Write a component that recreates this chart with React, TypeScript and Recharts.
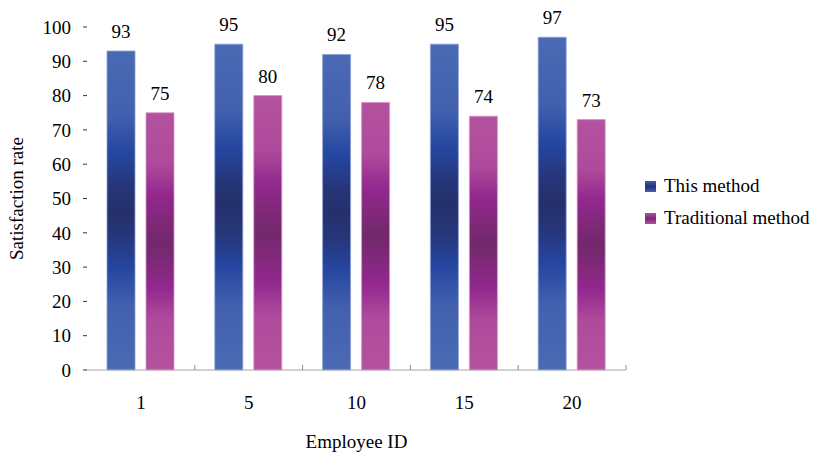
import { Bar, BarChart, LabelList, Legend, XAxis, YAxis } from "recharts";

const employees = ["1", "5", "10", "15", "20"];
const thisMethod = [93, 95, 92, 95, 97];
const traditional = [75, 80, 78, 74, 73];
const yTicks = [0, 10, 20, 30, 40, 50, 60, 70, 80, 90, 100];

const data = employees.map((id, i) => ({
  id,
  thisMethod: thisMethod[i],
  traditional: traditional[i]
}));

const font = "'Times New Roman', Times, 'Liberation Serif', Tinos, 'Noto Serif', 'DejaVu Serif', serif";

// category tick: label under the axis plus a small separator mark at the band edge
function EmployeeTick(props: any) {
  const { x, y, payload } = props;
  const half = payload?.offset ?? 0;
  return (
    <g>
      <line x1={x + half} x2={x + half} y1={y} y2={y - 5} stroke="#8c8c8c" />
      <text x={x} y={y + 39} textAnchor="middle" fill="#000" style={{ fontFamily: font, fontSize: 19 }}>
        {payload.value}
      </text>
    </g>
  );
}

function LegendBox() {
  const items = [
    { label: "This method", fill: "url(#blueLegend)" },
    { label: "Traditional method", fill: "url(#pinkLegend)" }
  ];
  return (
    <div style={{ width: 185, fontFamily: font, fontSize: 19, color: "#000" }}>
      {items.map((it) => (
        <div key={it.label} style={{ display: "flex", alignItems: "center", height: 32 }}>
          <svg width={11} height={11} style={{ marginRight: 8 }}>
            <defs>
              <linearGradient id="blueLegend" x1="0" y1="0" x2="0" y2="1">
                <stop offset="0" stopColor="#3f5fb0" />
                <stop offset="0.5" stopColor="#253373" />
                <stop offset="1" stopColor="#3f5fb0" />
              </linearGradient>
              <linearGradient id="pinkLegend" x1="0" y1="0" x2="0" y2="1">
                <stop offset="0" stopColor="#b24f9e" />
                <stop offset="0.5" stopColor="#7a2a72" />
                <stop offset="1" stopColor="#b24f9e" />
              </linearGradient>
            </defs>
            <rect x={0} y={0} width={11} height={11} fill={it.fill} />
          </svg>
          <span>{it.label}</span>
        </div>
      ))}
    </div>
  );
}

const textStyle = { fontFamily: font, fontSize: 19 };

export default function App() {
  return (
    <div style={{ position: "absolute", left: 0, top: 0, background: "#fff", fontFamily: font }}>
      <BarChart
        width={829}
        height={454}
        data={data}
        margin={{ top: 27, right: 18, bottom: 0, left: 0 }}
        barSize={28}
        barGap={11}
        barCategoryGap="18%"
        style={{ fontFamily: font }}
      >
        <defs>
          <linearGradient id="blueGrad" x1="0" y1="0" x2="0" y2="1">
            <stop offset="0" stopColor="#4a6ab4" />
            <stop offset="0.2" stopColor="#4260ae" />
            <stop offset="0.32" stopColor="#2546a0" />
            <stop offset="0.42" stopColor="#26367a" />
            <stop offset="0.5" stopColor="#25306b" />
            <stop offset="0.58" stopColor="#26367a" />
            <stop offset="0.68" stopColor="#2546a0" />
            <stop offset="0.8" stopColor="#4260ae" />
            <stop offset="1" stopColor="#4a6ab4" />
          </linearGradient>
          <linearGradient id="pinkGrad" x1="0" y1="0" x2="0" y2="1">
            <stop offset="0" stopColor="#b5529f" />
            <stop offset="0.2" stopColor="#ad4a9b" />
            <stop offset="0.32" stopColor="#93288e" />
            <stop offset="0.42" stopColor="#80287a" />
            <stop offset="0.5" stopColor="#72286b" />
            <stop offset="0.58" stopColor="#80287a" />
            <stop offset="0.68" stopColor="#93288e" />
            <stop offset="0.8" stopColor="#ad4a9b" />
            <stop offset="1" stopColor="#b5529f" />
          </linearGradient>
        </defs>
        <XAxis
          dataKey="id"
          height={84}
          stroke="#a6a6a6"
          tickLine={false}
          tickSize={0}
          tickMargin={0}
          interval={0}
          tick={<EmployeeTick />}
          label={{ value: "Employee ID", position: "insideBottom", offset: 6, fill: "#000", style: textStyle }}
        />
        <YAxis
          width={87}
          domain={[0, 100]}
          ticks={yTicks}
          interval={0}
          axisLine={false}
          tickSize={4}
          tickLine={{ stroke: "#333" }}
          tickMargin={12}
          tick={{ fill: "#000", style: textStyle }}
          label={{ value: "Satisfaction rate", angle: -90, position: "insideLeft", offset: 16, fill: "#000", style: { ...textStyle, textAnchor: "middle" } }}
        />
        <Legend
          layout="vertical"
          align="right"
          verticalAlign="middle"
          content={() => <LegendBox />}
          wrapperStyle={{ width: 185, left: 645, top: 170 }}
        />
        <Bar dataKey="thisMethod" name="This method" fill="url(#blueGrad)" stroke="#8ea0d6" strokeWidth={0.8} isAnimationActive={false}>
          <LabelList dataKey="thisMethod" position="top" offset={13} fill="#000" style={textStyle} />
        </Bar>
        <Bar dataKey="traditional" name="Traditional method" fill="url(#pinkGrad)" stroke="#d795c8" strokeWidth={0.8} isAnimationActive={false}>
          <LabelList dataKey="traditional" position="top" offset={13} fill="#000" style={textStyle} />
        </Bar>
      </BarChart>
    </div>
  );
}
